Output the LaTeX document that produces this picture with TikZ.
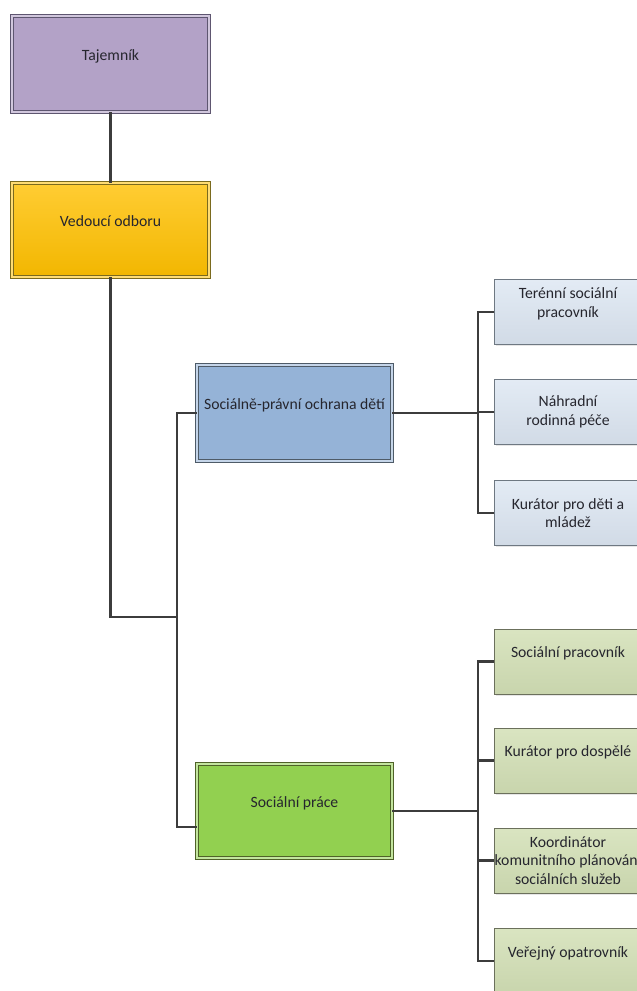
\documentclass[tikz,border=0pt]{standalone}
\usepackage{fontspec}
\setmainfont{Carlito}
\usepackage{tikz}
\usetikzlibrary{shadows}

\definecolor{linegray}{HTML}{3C3C3C}
\definecolor{txtgray}{HTML}{26262E}
\definecolor{tajfill}{HTML}{B3A2C7}
\definecolor{tajline}{HTML}{5E5670}
\definecolor{vedfill}{HTML}{FFC000}
\definecolor{vedline}{HTML}{7A6A1E}
\definecolor{spodfill}{HTML}{95B3D7}
\definecolor{spodline}{HTML}{4E5B68}
\definecolor{spfill}{HTML}{92D050}
\definecolor{spline}{HTML}{4F6228}
\definecolor{bluekid}{HTML}{DCE6F2}
\definecolor{bluekidline}{HTML}{6E7882}
\definecolor{greenkid}{HTML}{D3E0B6}
\definecolor{greenkidline}{HTML}{6B705C}

\begin{document}
\begin{tikzpicture}[x=1pt,y=-1pt,
  font=\fontsize{15.7}{18.5}\selectfont,
  conn/.style={line width=2.1pt, draw=linegray},
  headbox/.style={rectangle, align=center, inner sep=0pt, text=txtgray,
    line width=0.9pt, double distance=2.6pt,
    drop shadow={shadow xshift=1.5pt, shadow yshift=-1.5pt, opacity=0.2}},
  kidbox/.style={rectangle, align=center, inner sep=0pt, text=txtgray,
    minimum width=147pt, minimum height=65pt, line width=1pt,
    drop shadow={shadow xshift=1.5pt, shadow yshift=-1.5pt, opacity=0.2}},
  bluekidbox/.style={kidbox, draw=bluekidline,
    top color=bluekid!80!white, bottom color=bluekid!95!black},
  greenkidbox/.style={kidbox, draw=greenkidline,
    top color=greenkid!85!white, bottom color=greenkid!95!black}]

\path[use as bounding box] (0,0) rectangle (637,991);
\clip (0,0) rectangle (637,991);

% top of the tree
\node[headbox, fill=tajfill, draw=tajline, double=tajfill!60!white,
  minimum width=197pt, minimum height=96pt] (taj) at (110.5,64) {Tajemník\\\mbox{}};
\node[headbox, draw=vedline, double=vedfill!55!white,
  top color=vedfill!80!white, bottom color=vedfill!95!black,
  minimum width=197pt, minimum height=94pt] (ved) at (110.5,230) {Vedoucí odboru\\\mbox{}};

% the two sections
\node[headbox, fill=spodfill, draw=spodline, double=spodfill!55!white,
  minimum width=195pt, minimum height=96pt] (spod) at (294.5,413) {Sociálně-právní ochrana dětí\\\mbox{}};
\node[headbox, fill=spfill, draw=spline, double=spfill!55!white,
  minimum width=195pt, minimum height=94pt] (socp) at (294.5,811) {Sociální práce\\\mbox{}};

% children of the first section
\node[bluekidbox] (terenni) at (568,312) {Terénní sociální\\pracovník\\\mbox{}};
\node[bluekidbox] (nahr) at (568,412) {Náhradní\\rodinná péče};
\node[bluekidbox] (kurd) at (568,513) {Kurátor pro děti a\\mládež};

% children of the second section
\node[greenkidbox] (socprac) at (568,661.5) {Sociální pracovník\\\mbox{}};
\node[greenkidbox] (kurdosp) at (568,760.5) {Kurátor pro dospělé\\\mbox{}};
\node[greenkidbox] (koord) at (568,860.5) {Koordinátor\\komunitního plánování\\sociálních služeb};
\node[greenkidbox] (verej) at (568,961) {Veřejný opatrovník\\\mbox{}};

% connectors
\coordinate (split) at (177,617);
\coordinate (busb) at (478,413);
\coordinate (busg) at (478,811);

\draw[conn] (taj) -- (ved);
\draw[conn] (ved.south) |- (split);
\draw[conn] (spod.west) -| (split);
\draw[conn] ([yshift=-16pt]socp.west) -| (split);

\draw[conn] (spod.east) -- (busb);
\draw[conn] (terenni.west) -| (busb);
\draw[conn] (nahr.west) -| (busb);
\draw[conn] (kurd.west) -| (busb);

\draw[conn] (socp.east) -- (busg);
\draw[conn] (socprac.west) -| (busg);
\draw[conn] (kurdosp.west) -| (busg);
\draw[conn] (koord.west) -| (busg);
\draw[conn] (verej.west) -| (busg);

\end{tikzpicture}
\end{document}
